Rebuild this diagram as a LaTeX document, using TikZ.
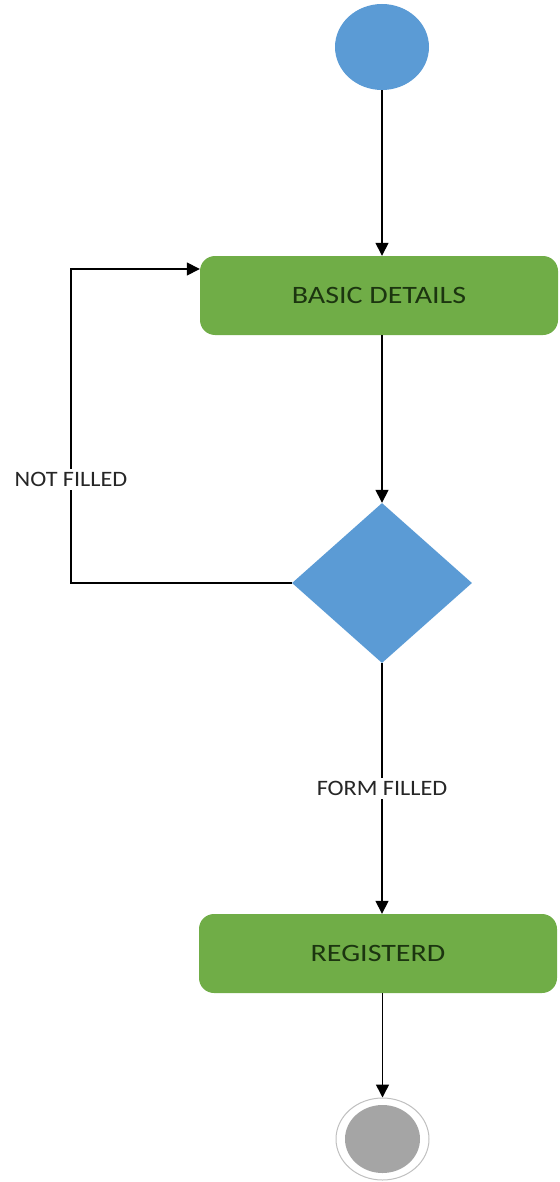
\documentclass[tikz,border=0pt]{standalone}
\usepackage{fontspec}
\setmainfont{Carlito}
\usetikzlibrary{arrows.meta,shapes.geometric}
\definecolor{nodeblue}{HTML}{5B9BD5}
\definecolor{actgreen}{HTML}{70AD47}
\definecolor{acttext}{HTML}{1C3510}
\definecolor{endgray}{HTML}{A5A5A5}
\definecolor{labeltext}{HTML}{262626}
\newcommand{\wide}[2]{\scalebox{#1}[1]{#2}}
\begin{document}
\begin{tikzpicture}[x=1pt,y=-1pt,
  flow/.style={draw=black,line width=1.5pt,-{Triangle[length=13pt,width=13pt]}},
  startdot/.style={ellipse,fill=nodeblue,minimum width=94pt,minimum height=86pt,inner sep=0pt},
  action/.style={fill=actgreen,rounded corners=15pt,minimum width=358pt,minimum height=79pt,
    inner sep=0pt,text=acttext,font=\fontsize{25}{30}\selectfont},
  decision/.style={diamond,fill=nodeblue,minimum width=180pt,minimum height=160pt,inner sep=0pt},
  endring/.style={ellipse,draw=endgray!70,line width=1pt,fill=white,minimum width=93pt,minimum height=82pt,inner sep=0pt},
  enddot/.style={ellipse,fill=endgray,minimum width=75pt,minimum height=68pt,inner sep=0pt},
  guard/.style={fill=white,inner sep=3pt,text=labeltext,font=\fontsize{22}{26}\selectfont}
]
\useasboundingbox (0,0) rectangle (559,1182);

% nodes
\node[startdot] (start) at (382,47) {};
\node[action] (basic) at (379,295.5) {\wide{1.2}{BASIC DETAILS}};
\node[decision] (dec) at (382,583) {};
\node[action] (reg) at (378,953.5) {\wide{1.2}{REGISTERD}};
\node[endring] (stop) at (382.5,1139) {};
\node[enddot] (stopdot) at (382.5,1139) {};

% loop-back corners
\coordinate (loopA) at (71,583);
\coordinate (loopB) at (71,269);

% connectors
\draw[flow] (start.south) -- (start.south |- basic.north);
\draw[flow] (dec.north |- basic.south) -- (dec.north);
\draw[flow] (dec.west) -- (loopA) -- node[guard,pos=0.33] {\wide{1.1}{NOT FILLED}} (loopB) -- (loopB -| basic.west);
\draw[flow] (dec.south) -- node[guard] {\wide{1.1}{FORM FILLED}} (dec.south |- reg.north);
\draw[flow] (stop.north |- reg.south) -- (stop.north);
\end{tikzpicture}
\end{document}
